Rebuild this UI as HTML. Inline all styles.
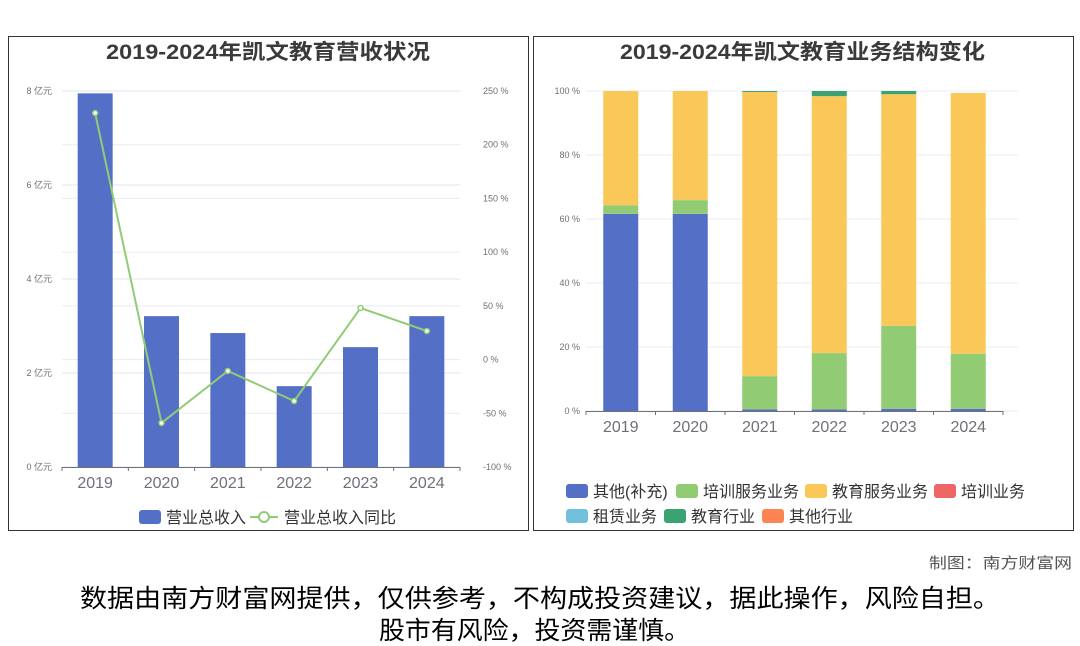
<!DOCTYPE html>
<html><head><meta charset="utf-8">
<style>
html,body{margin:0;padding:0;background:#fff;width:1080px;height:646px;overflow:hidden;font-family:"Liberation Sans","Noto Sans CJK SC",sans-serif}
svg text{font-family:"Liberation Sans","Noto Sans CJK SC",sans-serif}
</style></head><body>
<svg id="s" width="1080" height="646" xmlns="http://www.w3.org/2000/svg">
<rect x="8.5" y="36.5" width="520" height="494" fill="none" stroke="#333" stroke-width="1"/>
<rect x="533.5" y="36.5" width="540" height="494" fill="none" stroke="#333" stroke-width="1"/>
<text x="106" y="59" textLength="324" lengthAdjust="spacingAndGlyphs" font-size="21" font-weight="bold" fill="#3a3a3a">2019-2024年凯文教育营收状况</text>
<text x="620" y="59" textLength="365" lengthAdjust="spacingAndGlyphs" font-size="21" font-weight="bold" fill="#3a3a3a">2019-2024年凯文教育业务结构变化</text>
<g id="L"></g>
<g id="R"></g>
<text x="929" y="568" textLength="143" lengthAdjust="spacingAndGlyphs" font-size="15" fill="#555">制图：南方财富网</text>
<text x="80" y="607" textLength="920" lengthAdjust="spacingAndGlyphs" font-size="25" fill="#000">数据由南方财富网提供，仅供参考，不构成投资建议，据此操作，风险自担。</text>
<text x="379" y="639" textLength="311" lengthAdjust="spacingAndGlyphs" font-size="25" fill="#000">股市有风险，投资需谨慎。</text>
</svg>
<script>
const years=['2019','2020','2021','2022','2023','2024'];
const revenue=[7.95,3.21,2.85,1.72,2.55,3.21];
const growth=[229.5,-59,-10.6,-38.6,48,26.6];
const leftTicks=[0,2,4,6,8];
const rightTicks=[-100,-50,0,50,100,150,200,250];
const segNames=['其他(补充)','培训服务业务','教育服务业务','培训业务','租赁业务','教育行业','其他行业'];
const segColors=['#5470c6','#91cc75','#fac858','#ee6666','#73c0de','#3ba272','#fc8452'];
const segOther=[61.6,61.6,0.5,0.5,0.7,0.7];
const segTrainSvc=[2.7,4.3,10.4,17.6,25.9,17.2];
const segEduSvc=[35.7,34.1,88.8,80.3,72.4,81.5];
const segTrain=[0,0,0,0,0,0];
const segRent=[0,0,0,0,0,0];
const segEduInd=[0,0,0.3,1.6,1.0,0];
const segOtherInd=[0,0,0,0,0,0];
const pctTicks=[0,20,40,60,80,100];

const NS='http://www.w3.org/2000/svg';
function mk(p,t,a,txt){const e=document.createElementNS(NS,t);for(const k in a)e.setAttribute(k,a[k]);if(txt!==undefined)e.textContent=txt;p.appendChild(e);return e;}

// Left chart
const L=document.getElementById('L');
const lx0=62,lx1=460,ly0=467,ly1=91;
const yL=v=>ly0-(v-0)/8*(ly0-ly1);
const yR=v=>ly0-(v+100)/350*(ly0-ly1);
const bw=(lx1-lx0)/years.length;
const xc=i=>lx0+bw*(i+0.5);
rightTicks.forEach(t=>{const g=mk(L,'line',{x1:lx0,x2:lx1,y1:yR(t),y2:yR(t),stroke:'#e6ebf5','stroke-width':1});

const tx=mk(L,'text',{x:483,y:yR(t)+3,'font-size':9,fill:'#6e7079'},t+' %');
});
leftTicks.forEach(t=>{const g=mk(L,'line',{x1:lx0,x2:lx1,y1:yL(t),y2:yL(t),stroke:'#e0e6f1','stroke-width':1});

const tx=mk(L,'text',{x:52,y:yL(t)+3,'font-size':9,fill:'#6e7079','text-anchor':'end'},t+' 亿元');
});
revenue.forEach((v,i)=>{const r=mk(L,'rect',{x:xc(i)-17.5,y:yL(v),width:35,height:ly0-yL(v),fill:'#5470c6'});
});
let ax=mk(L,'line',{x1:lx0,x2:lx1,y1:ly0+.5,y2:ly0+.5,stroke:'#6e7079'});

years.forEach((y,i)=>{const tk=mk(L,'line',{x1:lx0+bw*i,x2:lx0+bw*i,y1:ly0,y2:ly0+4,stroke:'#6e7079'});

const t=mk(L,'text',{x:xc(i),y:488,'font-size':16,fill:'#6e7079','text-anchor':'middle'},y);
});
{const tk=mk(L,'line',{x1:lx1,x2:lx1,y1:ly0,y2:ly0+4,stroke:'#6e7079'});}
const pl=mk(L,'polyline',{points:growth.map((v,i)=>xc(i)+','+yR(v)).join(' '),fill:'none',stroke:'#91cc75','stroke-width':2});

growth.forEach((v,i)=>{const c=mk(L,'circle',{cx:xc(i),cy:yR(v),r:2.5,fill:'#fff',stroke:'#91cc75','stroke-width':1.5});
});
// left legend
{const r=mk(L,'rect',{x:139,y:510,width:22,height:14,rx:3,fill:'#5470c6'});
const t=mk(L,'text',{x:166,y:523,'font-size':16,fill:'#333'},'营业总收入');
const l=mk(L,'line',{x1:250,x2:278,y1:517,y2:517,stroke:'#91cc75','stroke-width':2});
const c=mk(L,'circle',{cx:264,cy:517,r:5,fill:'#fff',stroke:'#91cc75','stroke-width':2});
const t2=mk(L,'text',{x:284,y:523,'font-size':16,fill:'#333'},'营业总收入同比');}

// Right chart
const R=document.getElementById('R');
const rx0=586,rx1=1003,ry0=411,ry1=91;
const yP=v=>ry0-v/100*(ry0-ry1);
const rbw=(rx1-rx0)/years.length;
const rxc=i=>rx0+rbw*(i+0.5);
pctTicks.forEach(t=>{const g=mk(R,'line',{x1:rx0,x2:rx1+15,y1:yP(t),y2:yP(t),stroke:'#e6ebf5'});

const tx=mk(R,'text',{x:580,y:yP(t)+3,'font-size':9,fill:'#6e7079','text-anchor':'end'},t+' %');
});
const series=[segOther,segTrainSvc,segEduSvc,segTrain,segRent,segEduInd,segOtherInd];
years.forEach((y,i)=>{let acc=0;series.forEach((s,k)=>{const v=s[i];if(v>0){const r=mk(R,'rect',{x:rxc(i)-17.5,y:yP(acc+v),width:35,height:yP(acc)-yP(acc+v),fill:segColors[k]});
}acc+=v;});});
ax=mk(R,'line',{x1:rx0,x2:rx1,y1:ry0+.5,y2:ry0+.5,stroke:'#6e7079'});

years.forEach((y,i)=>{const tk=mk(R,'line',{x1:rx0+rbw*i,x2:rx0+rbw*i,y1:ry0,y2:ry0+4,stroke:'#6e7079'});

const t=mk(R,'text',{x:rxc(i),y:432,'font-size':16,fill:'#6e7079','text-anchor':'middle'},y);
});
{const tk=mk(R,'line',{x1:rx1,x2:rx1,y1:ry0,y2:ry0+4,stroke:'#6e7079'});}
const legPos=[[566,491],[676,491],[805,491],[934,491],[566,516],[664,516],[762,516]];
segNames.forEach((n,k)=>{const [x,y]=legPos[k];
const r=mk(R,'rect',{x:x,y:y-7,width:22,height:14,rx:3,fill:segColors[k]});
const t=mk(R,'text',{x:x+27,y:y+6,'font-size':16,fill:'#333'},n);});
</script>
</body></html>
